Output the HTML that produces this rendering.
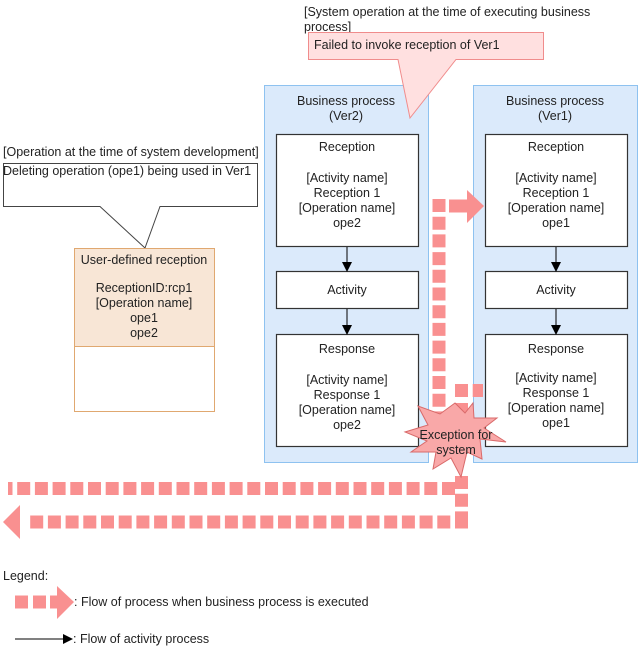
<!DOCTYPE html>
<html><head><meta charset="utf-8"><style>
html,body{margin:0;padding:0;background:#fff;}
svg{display:block;font-family:"Liberation Sans",Arial,sans-serif;font-size:12.5px;fill:#222;}
</style></head><body>
<svg width="641" height="649" viewBox="0 0 641 649" xmlns="http://www.w3.org/2000/svg">
<defs><marker id="ah" markerWidth="10" markerHeight="10" refX="9" refY="5" orient="auto" markerUnits="userSpaceOnUse"><path d="M0,0 L10,5 L0,10 z" fill="#000"/></marker></defs>

<text x="304" y="16">[System operation at the time of executing business</text>
<text x="304" y="31">process]</text>

<rect x="264.5" y="85.5" width="164" height="377" fill="#dbeafb" stroke="#8ec2f0"/>
<rect x="473.5" y="85.5" width="164" height="377" fill="#dbeafb" stroke="#8ec2f0"/>

<path d="M308.5,32.5 H543.5 V59.5 H456 L410,118 L398,59.5 H308.5 Z" fill="#ffe0e0" stroke="#f08c8c"/>
<text x="314" y="49">Failed to invoke reception of Ver1</text>

<g text-anchor="middle">
<text x="346" y="105">Business process</text><text x="346" y="120">(Ver2)</text>
<text x="555" y="105">Business process</text><text x="555" y="120">(Ver1)</text>
</g>

<g fill="#fff" stroke="#333" stroke-width="1.2">
<rect x="276.5" y="134.5" width="142" height="112"/>
<rect x="276.5" y="271.5" width="142" height="37"/>
<rect x="276.5" y="334.5" width="142" height="112"/>
<rect x="485.5" y="134.5" width="142" height="112"/>
<rect x="485.5" y="271.5" width="142" height="37"/>
<rect x="485.5" y="334.5" width="142" height="112"/>
</g>
<g stroke="#000" stroke-width="1">
<line x1="347" y1="247" x2="347" y2="271" marker-end="url(#ah)"/>
<line x1="347" y1="309" x2="347" y2="334" marker-end="url(#ah)"/>
<line x1="556" y1="247" x2="556" y2="271" marker-end="url(#ah)"/>
<line x1="556" y1="309" x2="556" y2="334" marker-end="url(#ah)"/>
</g>
<g text-anchor="middle">
<text x="347" y="151">Reception</text>
<text x="347" y="182">[Activity name]</text><text x="347" y="197">Reception 1</text><text x="347" y="212">[Operation name]</text><text x="347" y="227">ope2</text>
<text x="347" y="294">Activity</text>
<text x="347" y="353">Response</text>
<text x="347" y="384">[Activity name]</text><text x="347" y="399">Response 1</text><text x="347" y="414">[Operation name]</text><text x="347" y="429">ope2</text>
<text x="556" y="151">Reception</text>
<text x="556" y="182">[Activity name]</text><text x="556" y="197">Reception 1</text><text x="556" y="212">[Operation name]</text><text x="556" y="227">ope1</text>
<text x="556" y="294">Activity</text>
<text x="556" y="353">Response</text>
<text x="556" y="382">[Activity name]</text><text x="556" y="397">Response 1</text><text x="556" y="412">[Operation name]</text><text x="556" y="427">ope1</text>
</g>

<text x="3" y="156">[Operation at the time of system development]</text>
<path d="M3.5,163.5 H257.5 V206.5 H160 L145,248 L100,206.5 H3.5 Z" fill="#fff" stroke="#444"/>
<text x="3" y="175">Deleting operation (ope1) being used in Ver1</text>

<rect x="74.5" y="248.5" width="140" height="98" fill="#f8e6d6" stroke="#e0a870"/>
<rect x="74.5" y="346.5" width="140" height="65" fill="#fff" stroke="#e0a870"/>
<g text-anchor="middle">
<text x="144" y="264">User-defined reception</text>
<text x="144" y="292">ReceptionID:rcp1</text><text x="144" y="307">[Operation name]</text><text x="144" y="322">ope1</text><text x="144" y="337">ope2</text>
</g>

<g stroke="#f99090" stroke-width="13" fill="none" stroke-dasharray="13 4.7">
<line x1="439" y1="199" x2="439" y2="420"/>
<line x1="449" y1="206" x2="468" y2="206" stroke-dasharray="none"/>
<line x1="455" y1="390.5" x2="483" y2="390.5"/>
<line x1="461.5" y1="403" x2="461.5" y2="420"/>
<line x1="461.5" y1="476" x2="461.5" y2="529"/>
<line x1="455" y1="488.5" x2="8" y2="488.5"/>
<line x1="468" y1="522" x2="30" y2="522"/>
</g>
<path d="M467,190 L484,206 L467,223 Z" fill="#f99090"/>
<path d="M3,522 L20,505 L20,539 Z" fill="#f99090"/>

<path d="M455,403 L465,413 L473,403 L474,418 L497,418 L484,428 L506,442 L480,439 L482,459 L467,452 L461,477 L451,458 L433,469 L436,452 L411,452 L427,441 L405,432 L428,425 L418,406 L440,414 Z" fill="#f9a8a8" stroke="#d96a6a"/>
<g text-anchor="middle"><text x="456" y="439">Exception for</text><text x="456" y="454">system</text></g>

<text x="3" y="580">Legend:</text>
<g stroke="#f99090" stroke-width="13" fill="none"><line x1="15" y1="602" x2="28" y2="602"/><line x1="33" y1="602" x2="46" y2="602"/><line x1="50" y1="602" x2="58" y2="602"/></g>
<path d="M57,586 L74,602 L57,619 Z" fill="#f99090"/>
<text x="74" y="606">: Flow of process when business process is executed</text>
<line x1="15" y1="639" x2="72" y2="639" stroke="#000" marker-end="url(#ah)"/>
<text x="73" y="643">: Flow of activity process</text>
</svg>
</body></html>
